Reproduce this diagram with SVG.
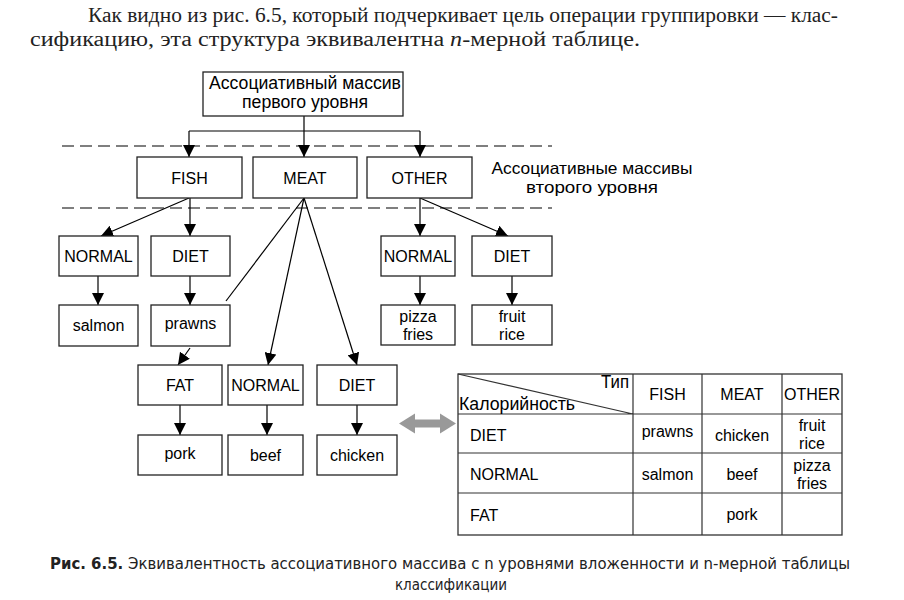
<svg xmlns="http://www.w3.org/2000/svg" width="904" height="600" viewBox="0 0 904 600">
<defs>
<marker id="ah" markerUnits="userSpaceOnUse" markerWidth="12" markerHeight="12" viewBox="0 0 12 12" refX="12" refY="6" orient="auto">
<path d="M0,0 L12,6 L0,12 Z" fill="#000"/>
</marker>
</defs>
<style>
.b{fill:#fff;stroke:#222;stroke-width:1.3}
.t{font-family:"Liberation Sans",Arial,sans-serif;font-size:16px;fill:#000;text-anchor:middle}
.tl{font-family:"Liberation Sans",Arial,sans-serif;font-size:16px;fill:#000}
.cy{font-size:17.5px}
.c{stroke:#000;stroke-width:1.2;fill:none}
.a{stroke:#000;stroke-width:1.2;fill:none;marker-end:url(#ah)}
.d{stroke:#000;stroke-width:1.2;stroke-dasharray:12 6}
.g{stroke:#333;stroke-width:1.2;fill:none}
</style>
<rect width="904" height="600" fill="#fff"/>
<g id="intro" font-family="Liberation Serif,serif" font-size="20.5" fill="#222">
<text x="88" y="22" textLength="750" lengthAdjust="spacingAndGlyphs">Как видно из рис. 6.5, который подчеркивает цель операции группировки — клас-</text>
<text x="30" y="46" textLength="610" lengthAdjust="spacingAndGlyphs">сификацию, эта структура эквивалентна <tspan font-style="italic">n</tspan>-мерной таблице.</text>
</g>
<g id="levels">
<line class="d" x1="62" y1="146" x2="552" y2="146"/>
<line class="d" x1="62" y1="208" x2="552" y2="208"/>
<text class="t" style="font-size:16.5px" x="592" y="174" textLength="201" lengthAdjust="spacingAndGlyphs">Ассоциативные массивы</text>
<text class="t" style="font-size:16.5px" x="592" y="192.5" textLength="132" lengthAdjust="spacingAndGlyphs">второго уровня</text>
</g>
<g id="connectors">
<path class="c" d="M304,116 V131 M189,131 H420"/>
<path class="a" d="M189,131 V157"/>
<path class="a" d="M304,131 V157"/>
<path class="a" d="M420,131 V157"/>
<path class="a" d="M189,198 L101,236"/>
<path class="a" d="M190,198 V236"/>
<path class="a" d="M98,276 V305"/>
<path class="a" d="M190,276 V305"/>
<path class="c" d="M304,198 L226,301"/>
<path class="a" d="M304,198 L268,365"/>
<path class="a" d="M304,198 L357,365"/>
<path class="a" d="M190,348 L178,365"/>
<path class="a" d="M180,405 V435"/>
<path class="a" d="M267,405 V435"/>
<path class="a" d="M357,405 V435"/>
<path class="a" d="M420,198 V236"/>
<path class="a" d="M420,198 L508,236"/>
<path class="a" d="M420,276 V305"/>
<path class="a" d="M512,276 V305"/>
</g>
<g id="n-root"><rect class="b" x="203" y="72" width="200" height="44"/><text class="t cy" x="305" y="89" textLength="192" lengthAdjust="spacingAndGlyphs">Ассоциативный массив</text><text class="t cy" x="305" y="108" textLength="126" lengthAdjust="spacingAndGlyphs">первого уровня</text></g>
<g id="n-fish"><rect class="b" x="137" y="157" width="105" height="41"/><text class="t" x="189.5" y="184">FISH</text></g>
<g id="n-meat"><rect class="b" x="253" y="157" width="104" height="41"/><text class="t" x="305" y="184">MEAT</text></g>
<g id="n-other"><rect class="b" x="367" y="157" width="105" height="41"/><text class="t" x="419.5" y="184">OTHER</text></g>
<g id="n-fish-normal"><rect class="b" x="59" y="236" width="79" height="40"/><text class="t" x="98.5" y="262">NORMAL</text></g>
<g id="n-fish-diet"><rect class="b" x="151" y="236" width="79" height="40"/><text class="t" x="190.5" y="262">DIET</text></g>
<g id="n-salmon"><rect class="b" x="59" y="305" width="79" height="41"/><text class="t" x="98.5" y="331">salmon</text></g>
<g id="n-prawns"><rect class="b" x="151" y="305" width="79" height="41"/><text class="t" x="190.5" y="329">prawns</text></g>
<g id="n-meat-fat"><rect class="b" x="138" y="365" width="84" height="40"/><text class="t" x="180" y="391">FAT</text></g>
<g id="n-meat-normal"><rect class="b" x="228" y="365" width="75" height="40"/><text class="t" x="265.5" y="391">NORMAL</text></g>
<g id="n-meat-diet"><rect class="b" x="317" y="365" width="80" height="40"/><text class="t" x="357" y="391">DIET</text></g>
<g id="n-pork"><rect class="b" x="138" y="435" width="84" height="40"/><text class="t" x="180" y="459">pork</text></g>
<g id="n-beef"><rect class="b" x="228" y="435" width="75" height="40"/><text class="t" x="265.5" y="461">beef</text></g>
<g id="n-chicken"><rect class="b" x="317" y="435" width="80" height="40"/><text class="t" x="357" y="461">chicken</text></g>
<g id="n-other-normal"><rect class="b" x="381" y="236" width="74" height="40"/><text class="t" x="418" y="262">NORMAL</text></g>
<g id="n-other-diet"><rect class="b" x="472" y="236" width="80" height="40"/><text class="t" x="512" y="262">DIET</text></g>
<g id="n-pizza"><rect class="b" x="381" y="305" width="74" height="40"/><text class="t" x="418" y="322">pizza</text><text class="t" x="418" y="340">fries</text></g>
<g id="n-fruit"><rect class="b" x="472" y="305" width="80" height="40"/><text class="t" x="512" y="322">fruit</text><text class="t" x="512" y="340">rice</text></g>
<g id="equiv">
<path d="M399,423.5 L415,413.5 L415,419.5 L440,419.5 L440,413.5 L456,423.5 L440,433.5 L440,427.5 L415,427.5 L415,433.5 Z" fill="#999"/>
</g>
<g id="table">
<rect x="458" y="374" width="384" height="161" fill="#fff" stroke="#333" stroke-width="1.3"/>
<path class="g" d="M633,374 V535 M702,374 V535 M782,374 V535 M458,414 H842 M458,453 H842 M458,493 H842 M458,374 L633,414"/>
<text class="tl cy" x="601" y="388" textLength="28" lengthAdjust="spacingAndGlyphs">Тип</text>
<text class="tl cy" x="459" y="410" textLength="116" lengthAdjust="spacingAndGlyphs">Калорийность</text>
<text class="t" x="667.5" y="400">FISH</text>
<text class="t" x="742" y="400">MEAT</text>
<text class="t" x="812" y="400">OTHER</text>
<text class="tl" x="470" y="441">DIET</text>
<text class="tl" x="470" y="480">NORMAL</text>
<text class="tl" x="470" y="521">FAT</text>
<text class="t" x="667.5" y="437">prawns</text>
<text class="t" x="742" y="441">chicken</text>
<text class="t" x="812" y="431">fruit</text>
<text class="t" x="812" y="449">rice</text>
<text class="t" x="667.5" y="480">salmon</text>
<text class="t" x="742" y="480">beef</text>
<text class="t" x="812" y="471">pizza</text>
<text class="t" x="812" y="489">fries</text>
<text class="t" x="742" y="520">pork</text>
</g>
<g id="caption" font-family="DejaVu Sans Condensed,DejaVu Sans,sans-serif" font-size="15" fill="#222" text-anchor="middle">
<text x="450" y="569" textLength="800" lengthAdjust="spacingAndGlyphs"><tspan font-weight="bold">Рис. 6.5.</tspan> Эквивалентность ассоциативного массива с n уровнями вложенности и n-мерной таблицы</text>
<text x="451" y="590">классификации</text>
</g>
</svg>
